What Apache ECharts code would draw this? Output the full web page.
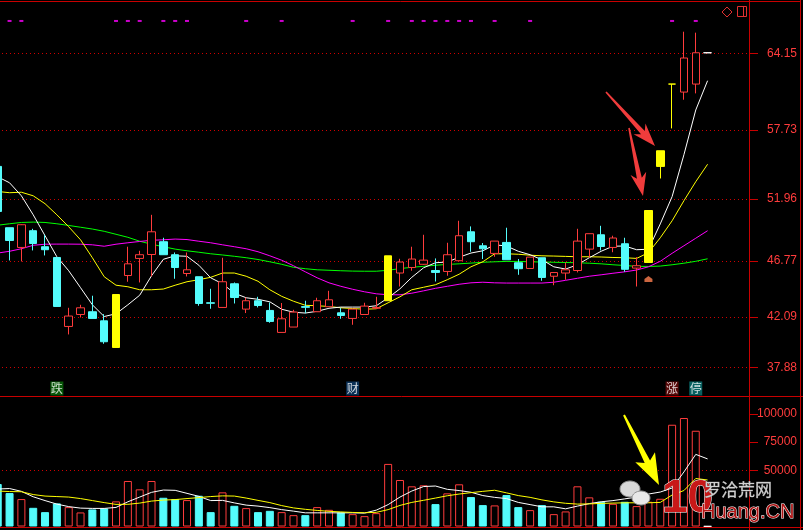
<!DOCTYPE html>
<html><head><meta charset="utf-8">
<script src="https://cdn.jsdelivr.net/npm/echarts@6/dist/echarts.min.js"></script>
<style>html,body{margin:0;padding:0;background:#000;overflow:hidden}#c{width:803px;height:530px;}</style>
</head><body><div id="c"></div><script>
// ---------- data ----------
const days = ['1','2','3','4','5','6','7','8','9','10','11','12','13','14','15','16','17','18','19','20','21','22','23','24','25','26','27','28','29','30','31','32','33','34','35','36','37','38','39','40','41','42','43','44','45','46','47','48','49','50','51','52','53','54','55','56','57','58','59','60','61','62','63','64'];
const open  = [54.69,49.56,47.91,49.31,47.97,47.07,41.30,42.30,42.53,41.77,39.54,45.56,46.99,47.32,48.39,47.30,45.73,45.46,43.28,42.89,44.87,42.75,43.45,42.64,40.80,41.25,42.96,42.53,42.95,42.44,41.97,42.30,42.82,43.45,45.77,46.23,46.50,45.98,45.90,46.80,49.22,48.05,47.41,48.33,46.63,46.15,47.05,45.50,45.77,45.98,47.77,48.97,47.91,48.22,46.18,46.65,54.69,61.58,60.91,61.58,64.20];
const close = [50.92,48.49,49.81,48.24,47.72,42.97,42.17,42.86,41.97,40.02,43.97,46.54,47.30,49.22,47.30,46.23,46.04,43.22,43.24,45.04,43.72,43.45,43.05,41.72,41.94,42.50,42.90,43.45,43.53,42.22,42.75,43.00,42.88,47.21,46.69,46.94,46.85,45.82,47.30,48.89,48.39,47.80,48.44,46.88,46.13,47.10,45.40,45.81,46.04,48.44,49.06,47.99,48.70,46.08,46.38,51.00,56.00,61.58,63.76,64.20,64.20];
const low   = [50.60,46.82,46.74,47.66,47.24,42.97,40.63,42.05,41.97,39.85,39.54,45.04,44.98,45.48,47.30,45.29,45.48,43.03,42.78,42.89,43.22,42.42,42.89,41.61,40.80,41.25,42.40,42.53,42.95,41.94,41.44,42.30,42.82,43.45,44.64,45.96,46.46,45.06,45.54,46.80,47.55,46.94,47.13,46.88,45.62,46.15,45.12,44.75,45.21,45.82,47.05,47.66,47.51,45.87,44.64,46.65,53.68,57.87,60.27,60.80,64.20];
const high  = [55.00,49.56,49.85,49.47,48.97,47.07,42.86,43.11,43.87,42.33,43.97,47.97,47.63,50.64,48.72,47.49,47.49,45.46,44.45,47.05,44.98,43.72,43.78,43.31,43.26,42.69,43.45,43.70,44.28,42.84,42.75,43.28,43.78,47.21,46.96,47.97,48.97,46.99,48.30,50.14,49.67,48.28,48.44,49.56,46.94,47.10,47.05,45.81,46.65,49.47,49.06,49.72,48.89,48.72,47.10,51.00,56.00,61.58,65.96,65.88,64.20];
const limitUpDays = [10,33,55,56,57];
const ma5  = [53.82,53.32,52.23,50.64,48.89,47.13,45.96,44.54,43.11,42.13,42.36,43.11,43.91,45.54,46.92,47.21,47.17,46.42,45.37,44.87,44.08,43.70,43.57,43.36,42.74,42.49,42.42,42.57,42.82,42.92,42.92,42.92,43.03,43.70,44.45,45.41,46.21,46.63,46.69,47.09,47.44,47.63,48.13,48.03,47.59,47.30,46.88,46.29,46.10,46.46,47.05,47.59,48.01,48.03,47.72,47.76,49.88,52.16,55.67,59.41,61.86];
const ma10 = [52.59,52.49,52.53,52.23,51.57,50.64,49.64,48.55,47.05,45.46,44.75,44.62,44.37,44.37,44.43,44.75,45.04,45.21,45.41,45.77,45.77,45.50,45.08,44.37,43.82,43.41,43.07,43.03,42.97,42.86,42.80,42.74,42.78,43.28,43.78,44.37,44.58,44.79,45.21,45.67,46.29,46.71,47.38,47.38,47.34,47.26,47.21,47.19,47.16,47.13,47.13,47.11,47.07,47.05,46.99,47.47,48.72,50.14,51.82,53.41,54.87];
const ma30 = [47.44,47.59,47.80,48.09,48.18,48.19,48.19,48.18,48.13,48.01,48.18,48.30,48.41,48.51,48.55,48.61,48.57,48.43,48.30,48.13,47.97,47.80,47.55,47.21,46.84,46.38,45.87,45.37,44.95,44.66,44.41,44.20,44.03,43.95,43.95,44.08,44.28,44.49,44.66,44.83,44.95,45.00,44.95,44.93,44.93,44.93,44.93,45.00,45.16,45.33,45.50,45.62,45.75,45.87,46.02,46.29,46.75,47.42,48.05,48.68,49.31];
const ma60 = [49.77,49.89,50.00,50.03,50.00,49.89,49.75,49.60,49.45,49.26,49.01,48.76,48.43,48.18,47.97,47.77,47.63,47.51,47.38,47.28,47.17,47.05,46.90,46.71,46.50,46.25,46.13,46.04,46.00,45.96,45.93,45.92,45.92,46.00,46.14,46.25,46.33,46.42,46.49,46.54,46.60,46.67,46.71,46.74,46.74,46.71,46.69,46.67,46.65,46.63,46.59,46.54,46.46,46.40,46.33,46.32,46.35,46.46,46.59,46.75,46.96];
const volume  = [37770,29730,24380,16610,12770,20540,17230,12500,15180,16070,22320,40450,33040,40450,25540,24380,23480,27320,12770,30360,18390,16340,12770,13930,12770,10090,10090,17230,14820,12500,10980,9200,11880,55630,41340,35720,36610,19910,29470,37500,26160,19020,18750,27950,17230,14550,19020,10980,13390,35720,25890,21970,20180,21970,18130,22000,24640,90450,96430,85100,300];
const volMa5  = [33300,33750,31250,26430,23040,19910,17680,16340,16070,16070,16970,21970,26160,30360,32410,32140,29470,26790,23040,23220,20980,19020,18130,16790,15000,13660,12140,12140,12140,12140,12140,11880,14550,19470,26160,31520,35540,35980,33040,31970,30450,27500,25890,24820,21430,19470,17500,17500,15720,18130,20360,21970,23040,24550,26160,28840,30630,34200,48480,64110,60090];
const volMa10 = [31520,31070,30890,28390,27050,26610,26160,24820,23040,21250,19640,19730,20800,22590,23480,23930,24820,25720,26610,27230,27050,25270,23220,21250,18570,16520,15270,14290,13480,12950,12500,12230,12590,15000,18750,21430,23300,25270,27320,28840,30090,31250,32230,29910,27500,25890,23660,21880,20630,19910,20090,20540,20800,21070,21070,21070,21430,28000,31970,42680,41340];
const priceTicks = [64.15,57.73,51.96,46.77,42.09,37.88];
const volTicks = [100000,75000,50000];
const volGridLines = [50000];
const signalDays = [1,2,10,11,12,14,15,16,21,24,30,33,35,36,37,38,39,40,42,45,57,59];
const eventDays  = [5,30,57,59];
const eventTexts = ['跌','财','涨','停'];
const eventBgs   = ['#0a6e0a','#0c3c6c','#6e0a0a','#0a7878'];
const markerDays = [55];

// ---------- styling constants ----------
const RED = '#ff3c3c', CYAN = '#54fcfc', YEL = '#ffff00', FRAME = '#c80000', GRIDC = '#d00000';
const SIGNAL_LEVEL = 66.86, EVENT_LEVEL = 36.11, MARKER_LEVEL = 45.27;

const candleData = open.map((o, i) => {
  const it = { value: [o, close[i], low[i], high[i]] };
  if (limitUpDays.includes(i)) it.itemStyle = { color: YEL, color0: YEL, borderColor: YEL, borderColor0: YEL, borderColorDoji: YEL };
  return it;
});
const volData = volume.map((v, i) => {
  let d = close[i] - open[i];
  if (d === 0 && i > 0) d = close[i] - close[i - 1];
  const st = d > 0 ? { color: '#000', borderColor: RED, borderWidth: 1 }
           : d < 0 ? { color: CYAN, borderColor: CYAN, borderWidth: 1 }
           : { color: '#fff', borderColor: '#fff', borderWidth: 1 };
  return { value: v, itemStyle: st };
});

function line(name, data, color, xi, yi, z) {
  return { name, type: 'line', xAxisIndex: xi, yAxisIndex: yi, data, symbol: 'none', silent: true,
    lineStyle: { color, width: 1 }, itemStyle: { color }, z: z || 2 };
}
function arrow(tx, ty, hx, hy, tailW, shaftW, headLen, headW) {
  const dx = hx - tx, dy = hy - ty, L = Math.hypot(dx, dy), ux = dx / L, uy = dy / L, nx = -uy, ny = ux;
  const bx = hx - ux * headLen, by = hy - uy * headLen, nb = 5;
  return [[tx + nx * tailW, ty + ny * tailW], [bx + nx * shaftW, by + ny * shaftW],
    [bx - ux * nb + nx * headW, by - uy * nb + ny * headW], [hx, hy],
    [bx - ux * nb - nx * headW, by - uy * nb - ny * headW], [bx - nx * shaftW, by - ny * shaftW],
    [tx - nx * tailW, ty - ny * tailW]];
}

const chart = echarts.init(document.getElementById('c'));
const axisLabelCommon = { color: RED, fontSize: 12, fontFamily: 'Liberation Sans', align: 'right', margin: 48 };
const staticGraphics = [
  { type: 'line', silent: true, z: 10, shape: { x1: 0, y1: 1.5, x2: 801, y2: 1.5 }, style: { stroke: FRAME, lineWidth: 1 } },
  { type: 'line', silent: true, z: 10, shape: { x1: 0, y1: 396.5, x2: 803, y2: 396.5 }, style: { stroke: FRAME, lineWidth: 1 } },
  { type: 'line', silent: true, z: 10, shape: { x1: 0, y1: 527.5, x2: 803, y2: 527.5 }, style: { stroke: FRAME, lineWidth: 1 } },
  { type: 'line', silent: true, z: 10, shape: { x1: 749.5, y1: 0, x2: 749.5, y2: 530 }, style: { stroke: FRAME, lineWidth: 1 } },
  { type: 'line', silent: true, z: 10, shape: { x1: 800.5, y1: 0, x2: 800.5, y2: 530 }, style: { stroke: FRAME, lineWidth: 1 } },
  // top-right icons
  { type: 'polygon', silent: true, z: 10, shape: { points: [[727, 7], [732, 12], [727, 17], [722, 12]] }, style: { fill: 'none', stroke: '#e03030', lineWidth: 1 } },
  { type: 'rect', silent: true, z: 10, shape: { x: 737.5, y: 6.5, width: 9, height: 10 }, style: { fill: 'none', stroke: '#e03030', lineWidth: 1 } },
  { type: 'line', silent: true, z: 10, shape: { x1: 743.5, y1: 6.5, x2: 743.5, y2: 16.5 }, style: { stroke: '#e03030', lineWidth: 1 } },
  // arrows
  { type: 'polygon', silent: true, z: 12, shape: { points: arrow(606, 92, 655, 146, 0.8, 2.5, 18, 8) }, style: { fill: '#f03c3c' } },
  { type: 'polygon', silent: true, z: 12, shape: { points: arrow(629, 128, 643, 196, 0.8, 2.5, 18, 8) }, style: { fill: '#f03c3c' } },
  { type: 'polygon', silent: true, z: 12, shape: { points: arrow(624, 415, 659, 485, 1, 3, 26, 11) }, style: { fill: '#ffff00' } },
  // watermark
  { type: 'ellipse', silent: true, z: 12, shape: { cx: 630, cy: 489, rx: 10, ry: 8 }, style: { fill: '#d8d8d8', stroke: '#909090' } },
  { type: 'ellipse', silent: true, z: 12, shape: { cx: 641, cy: 498, rx: 9, ry: 7 }, style: { fill: '#e8e8e8', stroke: '#909090' } },
  { type: 'text', silent: true, z: 12, x: 662, y: 476, style: { text: '10', font: 'bold 46px Liberation Sans', fill: '#c81818', stroke: '#ffffff', lineWidth: 1 } },
  { type: 'text', silent: true, z: 12, x: 704, y: 481, style: { text: '罗洽荒网', font: '17px Noto Sans CJK SC', fill: '#d0d0d0', stroke: '#808080', lineWidth: 0.5 } },
  { type: 'text', silent: true, z: 12, x: 701, y: 502, style: { text: 'Huang.CN', font: '20px Liberation Sans', fill: '#b01414', stroke: '#ffffff', lineWidth: 1 } }
];

chart.setOption({
  animation: false,
  backgroundColor: '#000',
  grid: [
    { left: -8.2, right: 54, top: 1, height: 395, outerBoundsMode: 'none' },
    { left: -8.2, right: 54, top: 396, height: 130.5, outerBoundsMode: 'none' }
  ],
  xAxis: [
    { type: 'category', gridIndex: 0, data: days, boundaryGap: true, axisLine: { show: false }, axisTick: { show: false }, axisLabel: { show: false }, splitLine: { show: false } },
    { type: 'category', gridIndex: 1, data: days, boundaryGap: true, axisLine: { show: false }, axisTick: { show: false }, axisLabel: { show: false }, splitLine: { show: false } }
  ],
  yAxis: [
    { type: 'value', gridIndex: 0, position: 'right', min: 35.48, max: 68.53, scale: true,
      axisLine: { show: false }, splitLine: { show: false },
      axisTick: { show: true, length: 9, customValues: priceTicks, lineStyle: { color: FRAME } },
      axisLabel: Object.assign({ customValues: priceTicks, formatter: v => Number(v).toFixed(2) }, axisLabelCommon) },
    { type: 'value', gridIndex: 1, position: 'right', min: 0, max: 116000,
      axisLine: { show: false }, splitLine: { show: false },
      axisTick: { show: true, length: 9, customValues: volTicks, lineStyle: { color: FRAME } },
      axisLabel: Object.assign({ customValues: volTicks, formatter: v => String(Math.round(v)) }, axisLabelCommon) }
  ],
  series: [
    line('MA60', ma60, '#00ff00', 0, 0),
    line('MA30', ma30, '#ff00ff', 0, 0),
    line('MA10', ma10, YEL, 0, 0),
    line('MA5', ma5, '#ffffff', 0, 0),
    { name: 'K', type: 'candlestick', xAxisIndex: 0, yAxisIndex: 0, data: candleData, barWidth: 8, z: 3, silent: true,
      itemStyle: { color: '#000', color0: CYAN, borderColor: RED, borderColor0: CYAN, borderColorDoji: '#ffffff', borderWidth: 1 } },
    { name: 'signal', type: 'scatter', xAxisIndex: 0, yAxisIndex: 0, silent: true, z: 5,
      data: signalDays.map(d => [d, SIGNAL_LEVEL]), symbol: 'rect', symbolSize: [4, 2], itemStyle: { color: '#ff00ff' } },
    { name: 'event', type: 'scatter', xAxisIndex: 0, yAxisIndex: 0, silent: true, z: 5,
      data: eventDays.map((d, k) => ({ value: [d, EVENT_LEVEL], itemStyle: { color: eventBgs[k] }, label: { formatter: eventTexts[k] } })),
      symbol: 'rect', symbolSize: [13, 14],
      label: { show: true, position: 'inside', color: '#ffffff', fontSize: 12, fontFamily: 'Noto Sans CJK SC' } },
    { name: 'marker', type: 'scatter', xAxisIndex: 0, yAxisIndex: 0, silent: true, z: 5,
      data: markerDays.map(d => [d, MARKER_LEVEL]), symbol: 'path://M5,0 L10,5 L10,10 L0,10 L0,5 Z', symbolSize: [8, 6],
      itemStyle: { color: '#ff8050' } },
    { name: 'VOL', type: 'bar', xAxisIndex: 1, yAxisIndex: 1, data: volData, barWidth: 8, z: 2, silent: true },
    line('VMA5', volMa5, '#ffffff', 1, 1, 3),
    line('VMA10', volMa10, YEL, 1, 1, 3)
  ],
  graphic: staticGraphics
});

// crisp dotted grid lines placed through the library's own y scales
const gridLines = [];
priceTicks.forEach(v => {
  const y = Math.round(chart.convertToPixel({ yAxisIndex: 0 }, v)) + 0.5;
  gridLines.push({ type: 'line', silent: true, z: 0, shape: { x1: 2, y1: y, x2: 749, y2: y }, style: { stroke: GRIDC, lineWidth: 1, lineDash: [1, 3] } });
});
volGridLines.forEach(v => {
  const y = Math.round(chart.convertToPixel({ yAxisIndex: 1 }, v)) + 0.5;
  gridLines.push({ type: 'line', silent: true, z: 0, shape: { x1: 2, y1: y, x2: 749, y2: y }, style: { stroke: GRIDC, lineWidth: 1, lineDash: [1, 3] } });
});
chart.setOption({ graphic: staticGraphics.concat(gridLines) }, { replaceMerge: ['graphic'] });
</script></body></html>
